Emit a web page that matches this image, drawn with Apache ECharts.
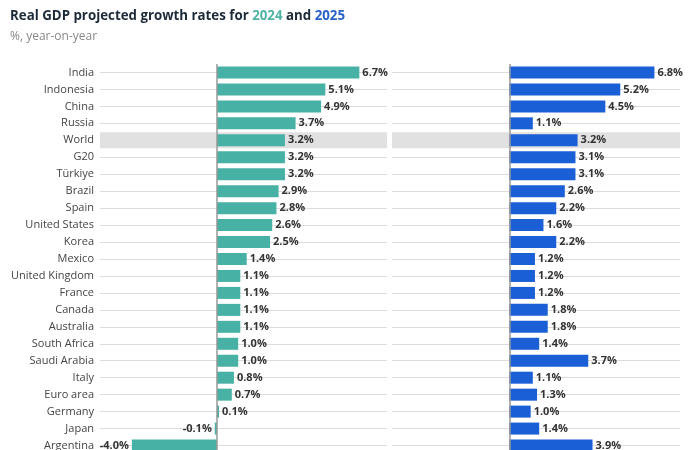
<!DOCTYPE html>
<html>
<head>
<meta charset="utf-8">
<script src="https://cdn.jsdelivr.net/npm/echarts@6/dist/echarts.min.js"></script>
<style>html,body{margin:0;padding:0;background:#fff}#c{width:700px;height:450px}</style>
</head>
<body>
<div id="c"></div>
<script>
const categories = ['India','Indonesia','China','Russia','World','G20','Türkiye','Brazil','Spain','United States','Korea','Mexico','United Kingdom','France','Canada','Australia','South Africa','Saudi Arabia','Italy','Euro area','Germany','Japan','Argentina'];
const growth2024 = [6.7,5.1,4.9,3.7,3.2,3.2,3.2,2.9,2.8,2.6,2.5,1.4,1.1,1.1,1.1,1.1,1.0,1.0,0.8,0.7,0.1,-0.1,-4.0];
const growth2025 = [6.8,5.2,4.5,1.1,3.2,3.1,3.1,2.6,2.2,1.6,2.2,1.2,1.2,1.2,1.8,1.8,1.4,3.7,1.1,1.3,1.0,1.4,3.9];
const highlighted = 'World';
const axisMin = -5.5, axisMax = 8;

const FONT = "'Open Sans', 'Noto Sans', sans-serif";
const TEAL = '#47b1a5', BLUE = '#1a5fd6';

function barData(vals) {
  return vals.map(v => v < 0 ? {value: v, label: {position: 'left'}} : v);
}
function bandData(val) {
  return categories.map(c => c === highlighted ? val : '-');
}
function valueAxis(gi) {
  return {type: 'value', gridIndex: gi, min: axisMin, max: axisMax, show: false, splitLine: {show: false}};
}
function catAxis(gi, showLabels) {
  return {
    type: 'category', gridIndex: gi, data: categories, inverse: true,
    axisLine: {show: false}, axisTick: {show: false},
    axisLabel: {show: showLabels, color: '#444', fontSize: 11, fontFamily: FONT, margin: 6},
    splitLine: {show: true, alignWithLabel: true, lineStyle: {color: '#dcdcdc', width: 1}}
  };
}
function hiddenCat(gi) {
  return {type: 'category', gridIndex: gi, data: categories, inverse: true, show: false, position: 'right'};
}
function bandSeries(xi, yi, stack) {
  const base = {type: 'bar', xAxisIndex: xi, yAxisIndex: yi, stack: stack, barWidth: 16, silent: true,
    itemStyle: {color: '#e1e1e1'}, label: {show: false}};
  return [Object.assign({}, base, {data: bandData(axisMax)}), Object.assign({}, base, {data: bandData(axisMin)})];
}
function dataSeries(xi, yi, vals, color) {
  return {
    type: 'bar', xAxisIndex: xi, yAxisIndex: yi, data: barData(vals), barWidth: 12,
    itemStyle: {color: color},
    label: {show: true, position: 'right', distance: 3, color: '#333', fontSize: 11, fontWeight: 'bold', fontFamily: FONT,
      formatter: p => p.value.toFixed(1) + '%'},
    markLine: {silent: true, symbol: 'none', label: {show: false},
      lineStyle: {color: '#999', width: 1.5, type: 'solid'}, data: [{xAxis: 0}]}
  };
}

const chart = echarts.init(document.getElementById('c'), null, {renderer: 'canvas'});
chart.setOption({
  animation: false,
  backgroundColor: '#fff',
  title: [{
    left: 10, top: 10, padding: 0,
    text: '{a|Real GDP projected growth rates for }{t|2024}{a| and }{b|2025}',
    textStyle: {rich: {
      a: {fontSize: 13.3, fontWeight: 'bold', color: '#1c2a3a', fontFamily: FONT},
      t: {fontSize: 13.3, fontWeight: 'bold', color: '#4fb3a5', fontFamily: FONT},
      b: {fontSize: 13.3, fontWeight: 'bold', color: '#2a62c9', fontFamily: FONT}
    }}
  }, {
    left: 10, top: 31, padding: 0,
    text: '%, year-on-year',
    textStyle: {fontSize: 12, fontWeight: 'normal', color: '#888', fontFamily: FONT}
  }],
  grid: [
    {left: 100, width: 287, top: 64, height: 390, outerBoundsMode: 'none', containLabel: false},
    {left: 392, width: 288, top: 64, height: 390, outerBoundsMode: 'none', containLabel: false}
  ],
  xAxis: [valueAxis(0), valueAxis(1), valueAxis(0), valueAxis(1)],
  yAxis: [catAxis(0, true), catAxis(1, false), hiddenCat(0), hiddenCat(1)],
  series: [
    ...bandSeries(2, 2, 'band0'),
    ...bandSeries(3, 3, 'band1'),
    dataSeries(0, 0, growth2024, TEAL),
    dataSeries(1, 1, growth2025, BLUE)
  ]
});
</script>
</body>
</html>
